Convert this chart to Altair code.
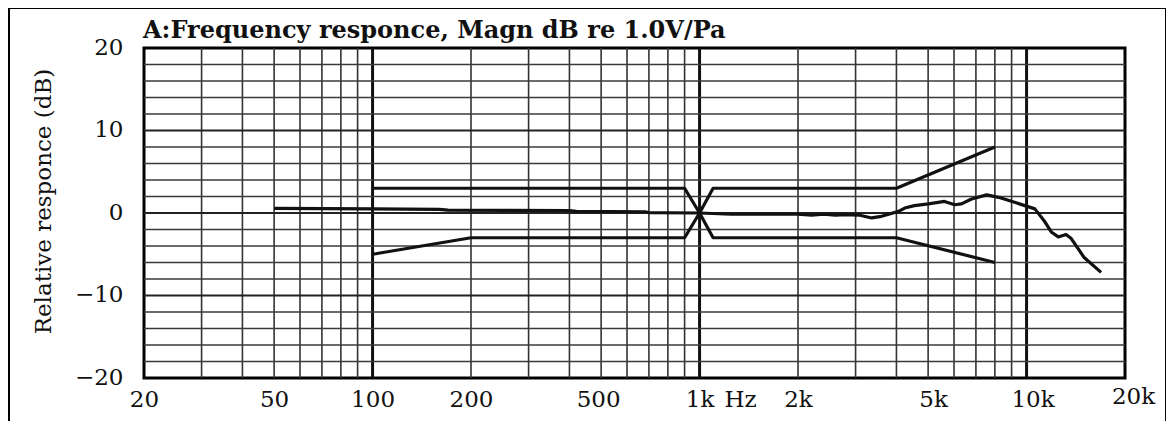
import altair as alt
import pandas as pd

# ---------------- data ----------------
resp_freq = [50, 100, 160, 170, 400, 420, 680, 700, 1000, 1250, 1600, 2000, 2200, 2400,
             2600, 2800, 3070, 3360, 3600, 4060, 4240, 4540, 5010, 5610, 6030, 6320, 6790,
             7550, 8210, 9190, 10600, 11300, 11900, 12500, 13200, 13700, 15000, 16900]
resp_db = [0.55, 0.5, 0.45, 0.35, 0.3, 0.2, 0.15, 0.05, 0.0, -0.15, -0.15, -0.15, -0.25, -0.15,
           -0.25, -0.2, -0.25, -0.6, -0.4, 0.2, 0.6, 0.9, 1.1, 1.4, 1.0, 1.1, 1.7,
           2.2, 1.9, 1.3, 0.5, -0.9, -2.3, -2.9, -2.6, -3.1, -5.4, -7.2]

upper_freq = [100, 900, 1000, 1100, 4000, 8000]
upper_db = [3, 3, 0, 3, 3, 8]
lower_freq = [100, 200, 900, 1000, 1100, 4000, 8000]
lower_db = [-5, -3, -3, 0, -3, -3, -6]

minor_x = [30, 40, 50, 60, 70, 80, 90, 200, 300, 400, 500, 600, 700, 800, 900,
           2000, 3000, 4000, 5000, 6000, 7000, 8000, 9000]
major_x = [100, 1000, 10000]
minor_y = [-18, -16, -14, -12, -8, -6, -4, -2, 2, 4, 6, 8, 12, 14, 16, 18]
major_y = [-10, 0, 10]

x_ticks = [20, 50, 100, 200, 500, 1000, 2000, 5000, 10000, 20000]
y_ticks = [-20, -10, 0, 10, 20]

title_text = "A:Frequency responce, Magn dB re 1.0V/Pa"
y_title = "Relative responce (dB)"
x_unit = "Hz"

# ---------------- layout ----------------
W, H = 981, 330
FONT = "DejaVu Serif"
INK = "#111111"

xs = alt.Scale(type="log", domain=[20, 20000], nice=False)
ys = alt.Scale(domain=[-20, 20], nice=False)

x_axis = alt.Axis(values=x_ticks, grid=False, ticks=False, domain=False,
                  labelExpr="datum.value >= 1000 ? (datum.value/1000) + 'k' : datum.value",
                  labelFont=FONT, labelFontSize=23, labelColor=INK,
                  labelPadding={"condition": {"test": "datum.value == 20000", "value": 7},
                                "value": 10},
                  labelOffset={"condition": [
                      {"test": "datum.value == 20000", "value": 8},
                      {"test": "datum.value == 10000", "value": 6},
                      {"test": "datum.value == 5000", "value": 5},
                      {"test": "datum.value == 500", "value": -3}], "value": 0},
                  labelFlush=False, labelOverlap=False,
                  title=x_unit, titleFont=FONT, titleFontSize=23,
                  titleFontWeight="normal", titleColor=INK,
                  titleX=596, titleY=10, titleBaseline="top", titleAlign="center")
y_axis = alt.Axis(values=y_ticks, grid=False, ticks=False, domain=False,
                  labelFont=FONT, labelFontSize=23, labelColor=INK,
                  labelPadding=21, labelBaseline="middle", labelFlush=False,
                  labelOffset=-1,
                  title=y_title, titleFont=FONT, titleFontSize=23,
                  titleFontWeight="normal", titleColor=INK,
                  titleX=-101, titleY=153, titleAngle=-90,
                  titleBaseline="middle", titleAlign="center")

rows = ([{"f": f, "db": d, "s": "resp"} for f, d in zip(resp_freq, resp_db)]
        + [{"f": f, "db": d, "s": "upper"} for f, d in zip(upper_freq, upper_db)]
        + [{"f": f, "db": d, "s": "lower"} for f, d in zip(lower_freq, lower_db)])
curves = pd.DataFrame(rows)

def vrules(vals, width, color):
    return alt.Chart(pd.DataFrame({"f": vals})).mark_rule(
        color=color, strokeWidth=width).encode(x=alt.X("f:Q", scale=xs, axis=x_axis))

def hrules(vals, width, color):
    return alt.Chart(pd.DataFrame({"db": vals})).mark_rule(
        color=color, strokeWidth=width).encode(y=alt.Y("db:Q", scale=ys, axis=y_axis))

grid = (vrules(minor_x, 1.6, "#333333") + vrules(major_x, 3, "#111111")
        + hrules(minor_y, 1.5, "#3a3a3a") + hrules(major_y, 2.2, "#222222"))

lines = alt.Chart(curves).mark_line(color=INK, strokeWidth=3.2, strokeJoin="round").encode(
    x=alt.X("f:Q", scale=xs, axis=x_axis),
    y=alt.Y("db:Q", scale=ys, axis=y_axis),
    detail="s:N",
    order="f:Q",
)

title = alt.Chart(pd.DataFrame({"t": [title_text]})).mark_text(
    align="left", baseline="alphabetic", font=FONT, fontSize=24, fontWeight="bold", color=INK
).encode(text="t:N", x=alt.value(-1), y=alt.value(-10))

frame = alt.Chart(pd.DataFrame({"a": [0]})).mark_rect(
    fillOpacity=0, stroke="black", strokeWidth=2
).encode(x=alt.value(-135), x2=alt.value(1022), y=alt.value(-40), y2=alt.value(H + 120))

chart = alt.layer(grid, lines, title, frame).properties(
    width=W, height=H,
    autosize=alt.AutoSizeParams(type="none"),
    padding={"left": 136, "top": 40, "right": 41, "bottom": 43},
    background="white",
).configure_view(stroke="black", strokeWidth=3)

chart.save("out.html", embed_options={"renderer": "svg", "actions": False})
